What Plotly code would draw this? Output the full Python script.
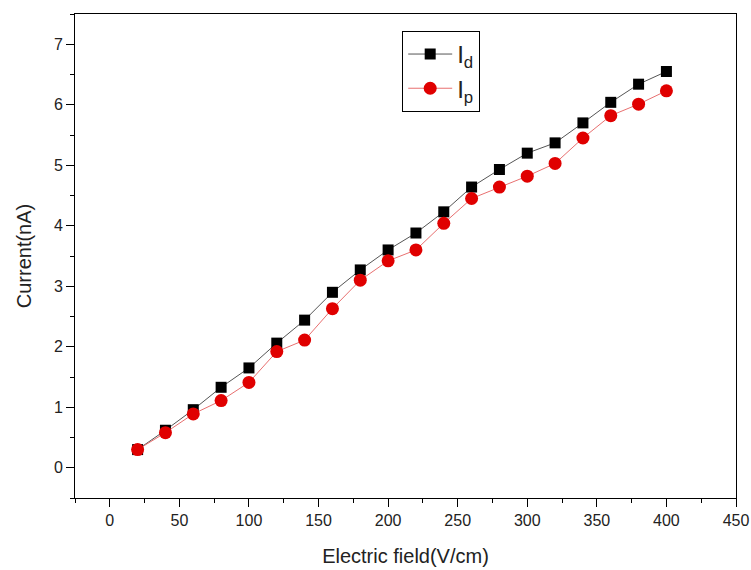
import plotly.graph_objects as go

field = [20, 40, 60, 80, 100, 120, 140, 160, 180, 200, 220, 240, 260, 280, 300, 320, 340, 360, 380, 400]
i_d = [0.30, 0.62, 0.96, 1.33, 1.65, 2.06, 2.44, 2.90, 3.27, 3.60, 3.88, 4.23, 4.64, 4.93, 5.20, 5.37, 5.70, 6.04, 6.34, 6.55]
i_p = [0.30, 0.58, 0.89, 1.11, 1.41, 1.92, 2.11, 2.63, 3.10, 3.42, 3.60, 4.04, 4.45, 4.64, 4.82, 5.03, 5.45, 5.82, 6.01, 6.23]

x_ticks = [0, 50, 100, 150, 200, 250, 300, 350, 400, 450]
y_ticks = [0, 1, 2, 3, 4, 5, 6, 7]

font = "Liberation Sans, Arial, sans-serif"

fig = go.Figure()
fig.add_trace(go.Scatter(
    x=field, y=i_d, mode="lines+markers", name="I<sub>d</sub>",
    line=dict(color="#555555", width=1),
    marker=dict(symbol="square", size=11, color="black"),
))
fig.add_trace(go.Scatter(
    x=field, y=i_p, mode="lines+markers", name="I<sub>p</sub>",
    line=dict(color="#e87070", width=1),
    marker=dict(symbol="circle", size=13, color="#e00000"),
))

fig.update_layout(
    width=751, height=570,
    margin=dict(l=75, r=15, t=14, b=72),
    paper_bgcolor="white", plot_bgcolor="white",
    font=dict(family=font, size=16, color="#222"),
    showlegend=True,
    legend=dict(x=0.495, y=0.965, xanchor="left", yanchor="top",
                bordercolor="black", borderwidth=1, bgcolor="white",
                font=dict(size=24, family=font), tracegroupgap=0,
                itemwidth=44),
)
fig.update_xaxes(
    range=[-25, 450], tickvals=x_ticks, ticktext=[str(v) for v in x_ticks],
    ticks="outside", ticklen=8, tickwidth=1, tickcolor="black",
    minor=dict(dtick=25, tick0=0, ticks="outside", ticklen=4, tickcolor="black"),
    showline=True, linecolor="black", linewidth=1, mirror=True,
    showgrid=False, zeroline=False, automargin=False,
    title=dict(text="Electric field(V/cm)", font=dict(size=20, family=font), standoff=20),
    tickfont=dict(size=16),
)
fig.update_yaxes(
    range=[-0.5, 7.5], tickvals=y_ticks, ticktext=[str(v) for v in y_ticks],
    ticks="outside", ticklen=8, tickwidth=1, tickcolor="black",
    minor=dict(dtick=0.5, tick0=0, ticks="outside", ticklen=4, tickcolor="black"),
    showline=True, linecolor="black", linewidth=1, mirror=True,
    showgrid=False, zeroline=False, automargin=False,
    title=dict(text="Current(nA)", font=dict(size=20, family=font), standoff=16),
    tickfont=dict(size=16),
)

fig.write_html("out.html")
